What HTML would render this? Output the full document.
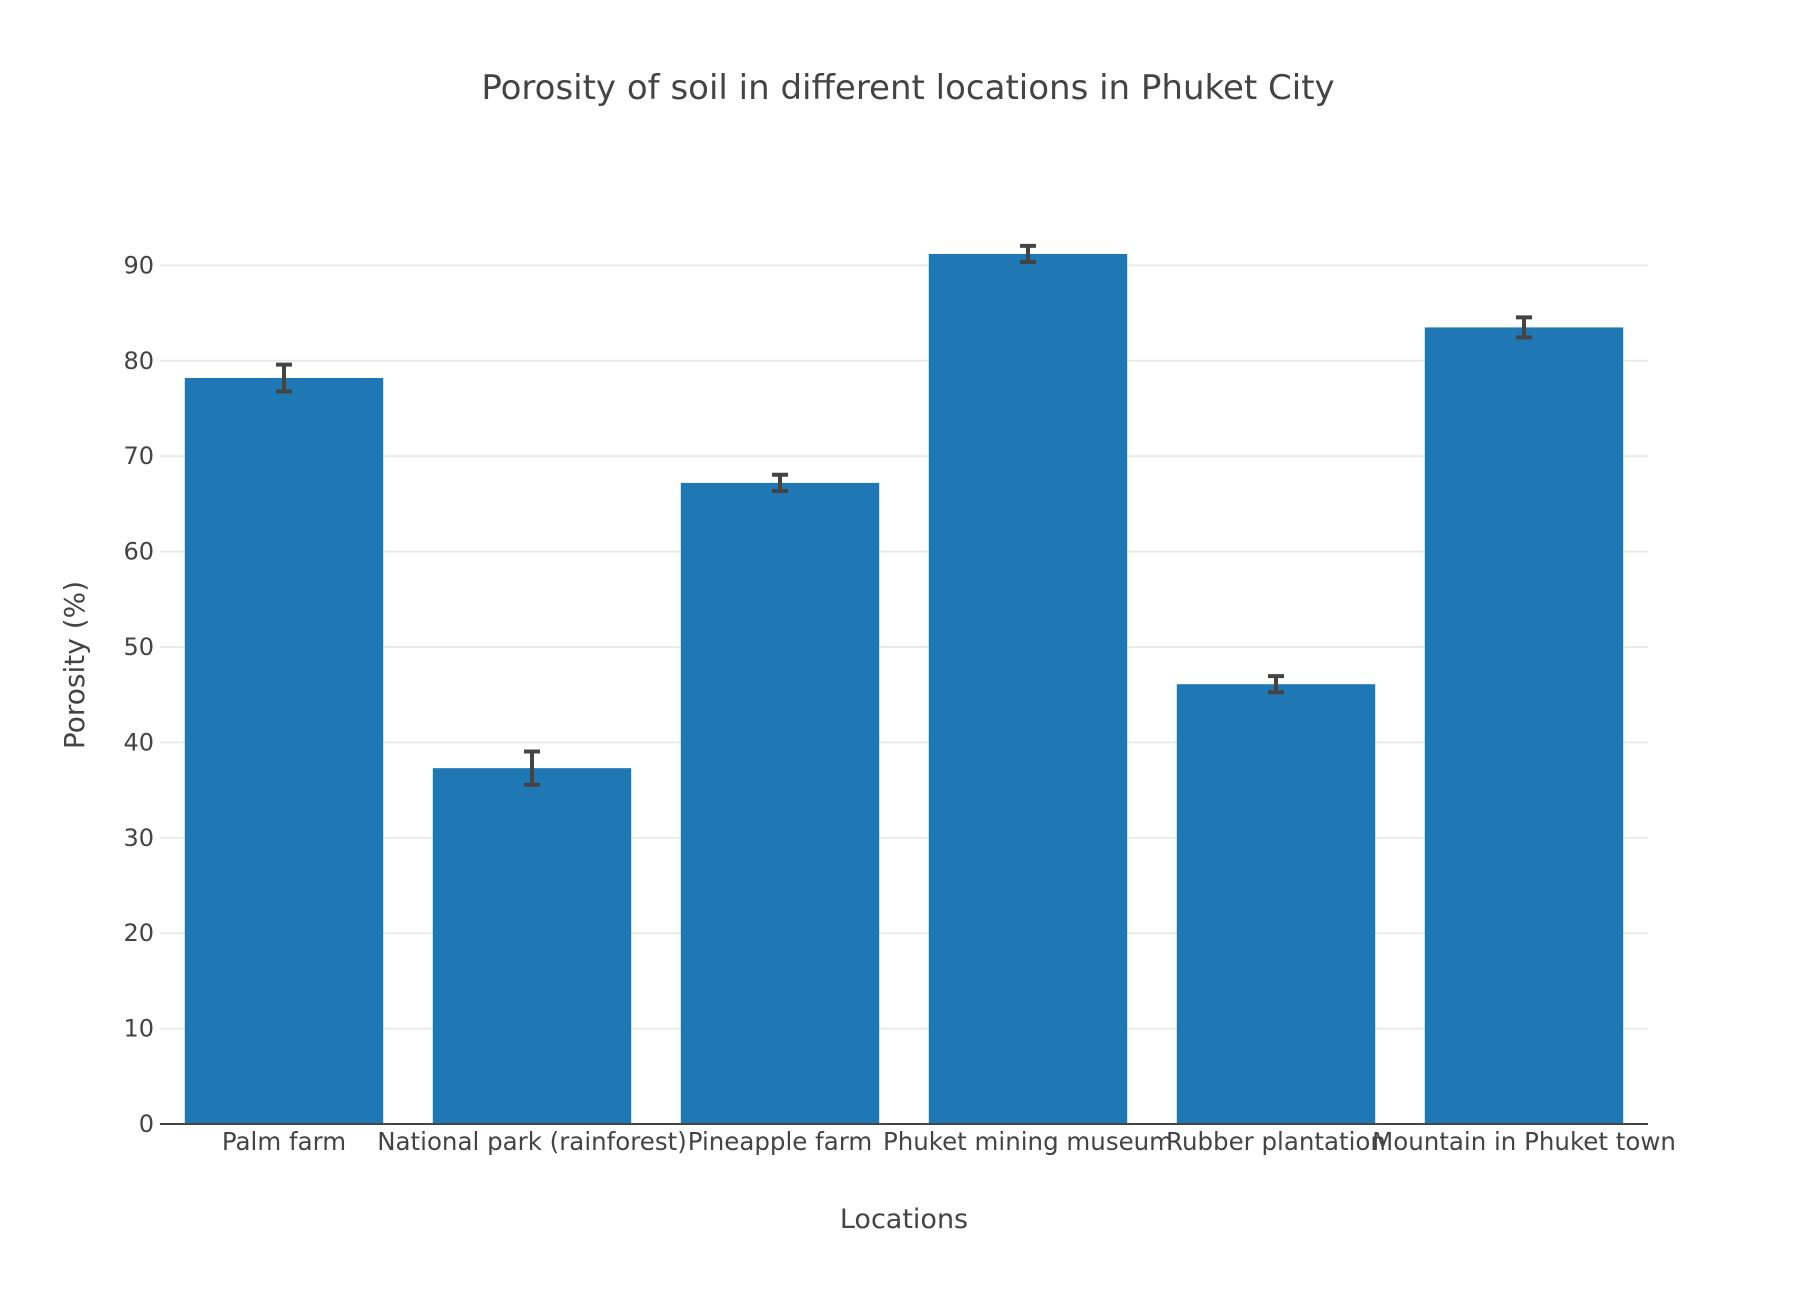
<!DOCTYPE html>
<html><head><meta charset="utf-8"><style>
body{margin:0;background:#fff}
svg text{font-family:"DejaVu Sans","Liberation Sans",sans-serif;fill:#444}
</style></head><body>
<svg id="chart" width="1810" height="1284" viewBox="0 0 1810 1284" xmlns="http://www.w3.org/2000/svg">
<text x="908" y="99" text-anchor="middle" font-size="34">Porosity of soil in different locations in Phuket City</text>
<g id="grid"></g><g id="bars"></g><g id="errs"></g><g id="yticks"></g><g id="xticks"></g>
<line x1="160" x2="1648" y1="1124" y2="1124" stroke="#444" stroke-width="2"/>
<text x="904" y="1228" text-anchor="middle" font-size="27">Locations</text>
<text transform="translate(84,665) rotate(-90)" text-anchor="middle" font-size="28">Porosity (%)</text>
</svg>
<script>
const categories=["Palm farm","National park (rainforest)","Pineapple farm","Phuket mining museum","Rubber plantation","Mountain in Phuket town"];
const values=[78.2,37.3,67.2,91.2,46.1,83.5];
const errors=[1.4,1.75,0.85,0.85,0.85,1.05];
const yTicks=[0,10,20,30,40,50,60,70,80,90];
const NS="http://www.w3.org/2000/svg";
const L=160,R=1648,Y0=1124,PX=9.54;
const bw=(R-L)/categories.length;
const y=v=>Y0-v*PX;
const xc=i=>L+bw*(i+0.5);
function mk(t,a,p){const e=document.createElementNS(NS,t);for(const k in a)e.setAttribute(k,a[k]);document.getElementById(p).appendChild(e);return e;}
yTicks.forEach(t=>{
 if(t>0){const g=mk('line',{x1:L,x2:R,y1:y(t),y2:y(t),stroke:'#eaeaea','stroke-width':2},'grid');
 
 }
 const tx=mk('text',{x:L-6,y:y(t)+8,'text-anchor':'end','font-size':24},'yticks');
 tx.textContent=t;
 
 
});
categories.forEach((c,i)=>{
 const w=bw*0.8;
 const b=mk('rect',{x:xc(i)-w/2,y:y(values[i]),width:w,height:Y0-y(values[i]),fill:'#1f77b4'},'bars');
 
 
 const hi=y(values[i]+errors[i]),lo=y(values[i]-errors[i]),x=xc(i);
 const e=mk('path',{d:`M${x},${hi}V${lo}M${x-8},${hi}H${x+8}M${x-8},${lo}H${x+8}`,stroke:'#444','stroke-width':4,fill:'none'},'errs');
 
 
 const t=mk('text',{x:x,y:1150,'text-anchor':'middle','font-size':24.5},'xticks');
 t.textContent=c;
 
 
});
</script>
</body></html>
